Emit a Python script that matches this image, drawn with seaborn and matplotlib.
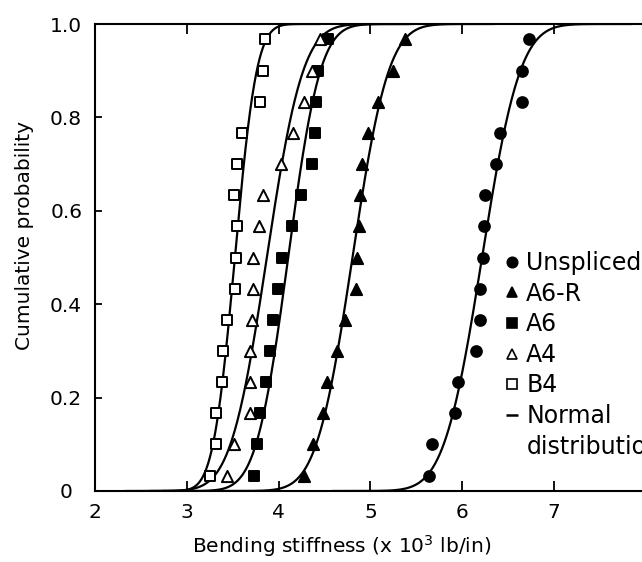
import math
import numpy as np
import pandas as pd
import seaborn as sns
import matplotlib
matplotlib.use("Agg")
import matplotlib.pyplot as plt
from matplotlib.lines import Line2D

# ---------------- data ----------------
prob_levels = [0.033, 0.100, 0.167, 0.233, 0.300, 0.367, 0.433, 0.500,
               0.567, 0.633, 0.700, 0.767, 0.833, 0.900, 0.967]
unspliced = [5.64, 5.67, 5.92, 5.96, 6.15, 6.19, 6.20, 6.23, 6.24, 6.25, 6.37, 6.41, 6.65, 6.65, 6.73]
a6r = [4.28, 4.37, 4.48, 4.53, 4.64, 4.72, 4.84, 4.85, 4.88, 4.89, 4.91, 4.97, 5.08, 5.25, 5.38]
a6 = [3.73, 3.76, 3.80, 3.86, 3.91, 3.94, 3.99, 4.04, 4.14, 4.24, 4.36, 4.40, 4.41, 4.43, 4.54]
a4 = [3.44, 3.51, 3.69, 3.69, 3.69, 3.71, 3.72, 3.72, 3.78, 3.83, 4.03, 4.16, 4.28, 4.36, 4.45]
b4 = [3.25, 3.32, 3.32, 3.38, 3.39, 3.44, 3.52, 3.53, 3.54, 3.51, 3.55, 3.60, 3.80, 3.83, 3.85]

series_names = ["Unspliced", "A6-R", "A6", "A4", "B4"]
series_values = [unspliced, a6r, a6, a4, b4]
x_ticks = [2, 3, 4, 5, 6, 7]
y_ticks = [0, 0.2, 0.4, 0.6, 0.8, 1.0]
y_tick_labels = ["0", "0.2", "0.4", "0.6", "0.8", "1.0"]

# ---------------- styling ----------------
sns.set_style("ticks")
plt.rcParams["font.family"] = ["DejaVu Sans"]
plt.rcParams["mathtext.default"] = "regular"
plt.rcParams["text.color"] = "black"
plt.rcParams["axes.labelcolor"] = "black"
plt.rcParams["xtick.color"] = "black"
plt.rcParams["ytick.color"] = "black"
FS = 14.5
LFS = 17

marker_style = {
    "Unspliced": dict(marker="o", face="black"),
    "A6-R": dict(marker="^", face="black"),
    "A6": dict(marker="s", face="black"),
    "A4": dict(marker="^", face="white"),
    "B4": dict(marker="s", face="white"),
}

W, H = 642, 562
fig = plt.figure(figsize=(W / 100, H / 100), dpi=100)
left_px, right_px, top_px, bottom_px = 95.3, 645.5, 24, 491
ax = fig.add_axes([left_px / W, 1 - bottom_px / H,
                   (right_px - left_px) / W, (bottom_px - top_px) / H])

frames = []
for name, vals in zip(series_names, series_values):
    frames.append(pd.DataFrame({"stiffness": vals, "prob": prob_levels, "series": name}))
df = pd.concat(frames, ignore_index=True)

erf = np.vectorize(math.erf)
for name in series_names:
    d = df[df["series"] == name]
    mu = d["stiffness"].mean()
    sd = d["stiffness"].std()
    xs = np.linspace(mu - 5 * sd, mu + 5 * sd, 400)
    cdf = 0.5 * (1 + erf((xs - mu) / (sd * math.sqrt(2))))
    sns.lineplot(x=xs, y=cdf, color="black", linewidth=1.6, ax=ax, zorder=2)

for name in series_names:
    d = df[df["series"] == name]
    st = marker_style[name]
    size = {"o": 60, "^": 65, "s": 55}[st["marker"]]
    sns.scatterplot(data=d, x="stiffness", y="prob", marker=st["marker"],
                    color=st["face"], edgecolor="black", linewidth=1.4,
                    s=size, ax=ax, zorder=3, legend=False)

ax.set_xlim(2, 8)
ax.set_ylim(0, 1.0)
ax.set_xticks(x_ticks)
ax.set_xticklabels([str(t) for t in x_ticks])
ax.set_yticks(y_ticks)
ax.set_yticklabels(y_tick_labels)

for side in ["left", "top", "bottom", "right"]:
    ax.spines[side].set_linewidth(1.5)
    ax.spines[side].set_color("black")

ax.tick_params(axis="x", which="both", direction="in", top=True, bottom=True,
               length=7, width=1.3, pad=9, labelsize=FS, colors="black")
ax.tick_params(axis="y", which="both", direction="in", left=True, right=False,
               length=5, width=1.3, pad=21, labelsize=FS, colors="black")
for lab in ax.get_yticklabels():
    lab.set_horizontalalignment("center")

ax.set_xlabel("Bending stiffness (x 10$^3$ lb/in)", fontsize=FS, color="black")
ax.set_ylabel("Cumulative probability", fontsize=FS, color="black")
ax.xaxis.set_label_coords((342 - left_px) / (right_px - left_px),
                          -(546 - bottom_px) / (bottom_px - top_px))
ax.yaxis.set_label_coords(-(left_px - 25) / (right_px - left_px),
                          (bottom_px - 235) / (bottom_px - top_px))
ax.xaxis.label.set_va("center")
ax.yaxis.label.set_va("center")

handles = []
for name in series_names:
    st = marker_style[name]
    handles.append(Line2D([], [], linestyle="none", marker=st["marker"],
                          markerfacecolor=st["face"], markeredgecolor="black",
                          markeredgewidth=1.2, markersize=7.5, label=name))
handles.append(Line2D([], [], linestyle="none", marker="_", markersize=8,
                      markeredgewidth=1.8, color="black", label="Normal"))
handles.append(Line2D([], [], linestyle="none", label="distribution"))

leg = fig.legend(handles=handles, loc="upper left",
                 bbox_to_anchor=(505 / W, 1 - 251 / H), frameon=False,
                 fontsize=LFS, handlelength=0.6, handletextpad=0.3,
                 labelspacing=0.28, borderpad=0, borderaxespad=0)
for t in leg.get_texts():
    t.set_color("black")

fig.savefig("out.png", dpi=100)
